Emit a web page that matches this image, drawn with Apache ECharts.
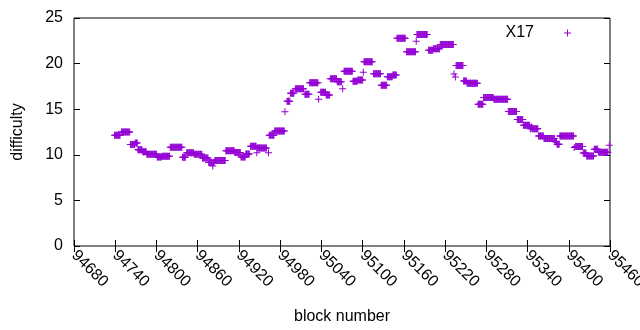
<!DOCTYPE html>
<html><head><meta charset="utf-8">
<script src="https://cdn.jsdelivr.net/npm/echarts@6/dist/echarts.min.js"></script>
<style>html,body{margin:0;padding:0;background:#fff}#c{width:640px;height:330px}</style>
</head><body><div id="c"></div>
<script>
const seriesName = 'X17';
const xTitle = 'block number';
const yTitle = 'difficulty';
const xMin = 94680, xMax = 95460, xStep = 60;
const yMin = 0, yMax = 25, yStep = 5;

// runs of consecutive blocks sharing one difficulty value
const runStart = [94739,94749,94762,94769,94773,94780,94786,94801,94808,94820,94838,94844,94855,94867,94876,94882,94883,94885,94901,94914,94923,94930,94937,94946,94947,94963,94964,94972,94987,94990,94995,95002,95016,95023,95036,95039,95047,95053,95063,95071,95073,95086,95093,95101,95102,95116,95127,95136,95144,95150,95164,95178,95179,95196,95203,95213,95233,95235,95236,95247,95252,95268,95276,95291,95312,95325,95334,95344,95346,95347,95356,95364,95380,95383,95387,95408,95410,95421,95426,95437,95443,95459];
const runEnd   = [94747,94761,94768,94772,94779,94785,94800,94807,94819,94837,94842,94854,94866,94875,94881,94882,94884,94900,94913,94922,94929,94935,94945,94946,94960,94963,94971,94986,94987,94994,95000,95014,95022,95035,95036,95046,95052,95062,95069,95071,95085,95092,95100,95101,95114,95126,95135,95143,95149,95162,95177,95178,95194,95202,95212,95232,95233,95235,95246,95251,95267,95275,95290,95311,95324,95333,95343,95345,95346,95355,95363,95379,95382,95386,95407,95408,95420,95425,95436,95442,95457,95459];
const runValue = [12.15,12.5,11.12,11.3,10.55,10.33,10.05,9.75,9.85,10.82,9.72,10.22,10.05,9.65,9.15,8.77,9.15,9.38,10.45,10.25,9.75,10.1,10.95,10.23,10.75,10.23,12.15,12.6,14.73,15.87,16.74,17.25,16.63,17.9,16.08,16.85,16.56,18.35,18.0,17.25,19.15,18.06,18.2,19.06,20.2,18.9,17.62,18.57,18.75,22.77,21.3,22.44,23.2,21.46,21.64,22.1,18.87,18.52,19.8,18.1,17.84,15.53,16.28,16.1,14.75,13.87,13.23,12.87,13.05,12.87,12.05,11.8,11.44,11.15,12.05,10.8,10.92,10.2,9.88,10.62,10.28,11.05];

const points = [];
for (let i = 0; i < runStart.length; i++) {
  for (let b = runStart[i]; b <= runEnd[i]; b++) points.push([b, runValue[i]]);
}

const FONT = '"Liberation Sans", Arial, sans-serif';
const PLUS = 'path://M3,0H4V3H7V4H4V7H3V4H0V3H3Z';
const tickStyle = {inside: true, length: 6, lineStyle: {color: '#000', width: 1}};

const chart = echarts.init(document.getElementById('c'), null, {renderer: 'canvas'});
chart.setOption({
  animation: false,
  backgroundColor: '#fff',
  grid: {left: 74, right: 30, top: 18, bottom: 84, show: true, borderColor: '#000', borderWidth: 1,
         backgroundColor: 'transparent', containLabel: false, outerBoundsMode: 'none'},
  legend: {
    show: true, data: [seriesName], right: 69, top: 25, padding: 0, align: 'right',
    itemWidth: 7, itemHeight: 7, icon: PLUS, selectedMode: false,
    textStyle: {fontSize: 16, color: '#000', fontFamily: FONT, padding: [0, 25, 0, 0]}
  },
  xAxis: [
    {type: 'value', min: xMin, max: xMax, interval: xStep, position: 'bottom',
     name: xTitle, nameLocation: 'middle', nameGap: 63,
     nameTextStyle: {fontSize: 16, color: '#000', fontFamily: FONT},
     axisLine: {show: false}, splitLine: {show: false}, axisTick: tickStyle,
     axisLabel: {rotate: -45, margin: 7, fontSize: 16, color: '#000', fontFamily: FONT,
                 formatter: v => String(v), showMinLabel: true, showMaxLabel: true, hideOverlap: false}},
    {type: 'value', min: xMin, max: xMax, interval: xStep, position: 'top',
     axisLine: {show: false}, splitLine: {show: false}, axisTick: tickStyle, axisLabel: {show: false}}
  ],
  yAxis: [
    {type: 'value', min: yMin, max: yMax, interval: yStep, position: 'left',
     name: yTitle, nameLocation: 'middle', nameGap: 48, nameRotate: 90,
     nameTextStyle: {fontSize: 16, color: '#000', fontFamily: FONT},
     axisLine: {show: false}, splitLine: {show: false}, axisTick: tickStyle,
     axisLabel: {margin: 11, fontSize: 16, color: '#000', fontFamily: FONT, formatter: v => String(v)}},
    {type: 'value', min: yMin, max: yMax, interval: yStep, position: 'right',
     axisLine: {show: false}, splitLine: {show: false}, axisTick: tickStyle, axisLabel: {show: false}}
  ],
  series: [{
    type: 'scatter', name: seriesName, xAxisIndex: 0, yAxisIndex: 0, data: points,
    symbol: PLUS, symbolSize: 7, itemStyle: {color: '#9400D3', opacity: 1}, silent: true,
    emphasis: {disabled: true}
  }]
});
</script>
</body></html>
